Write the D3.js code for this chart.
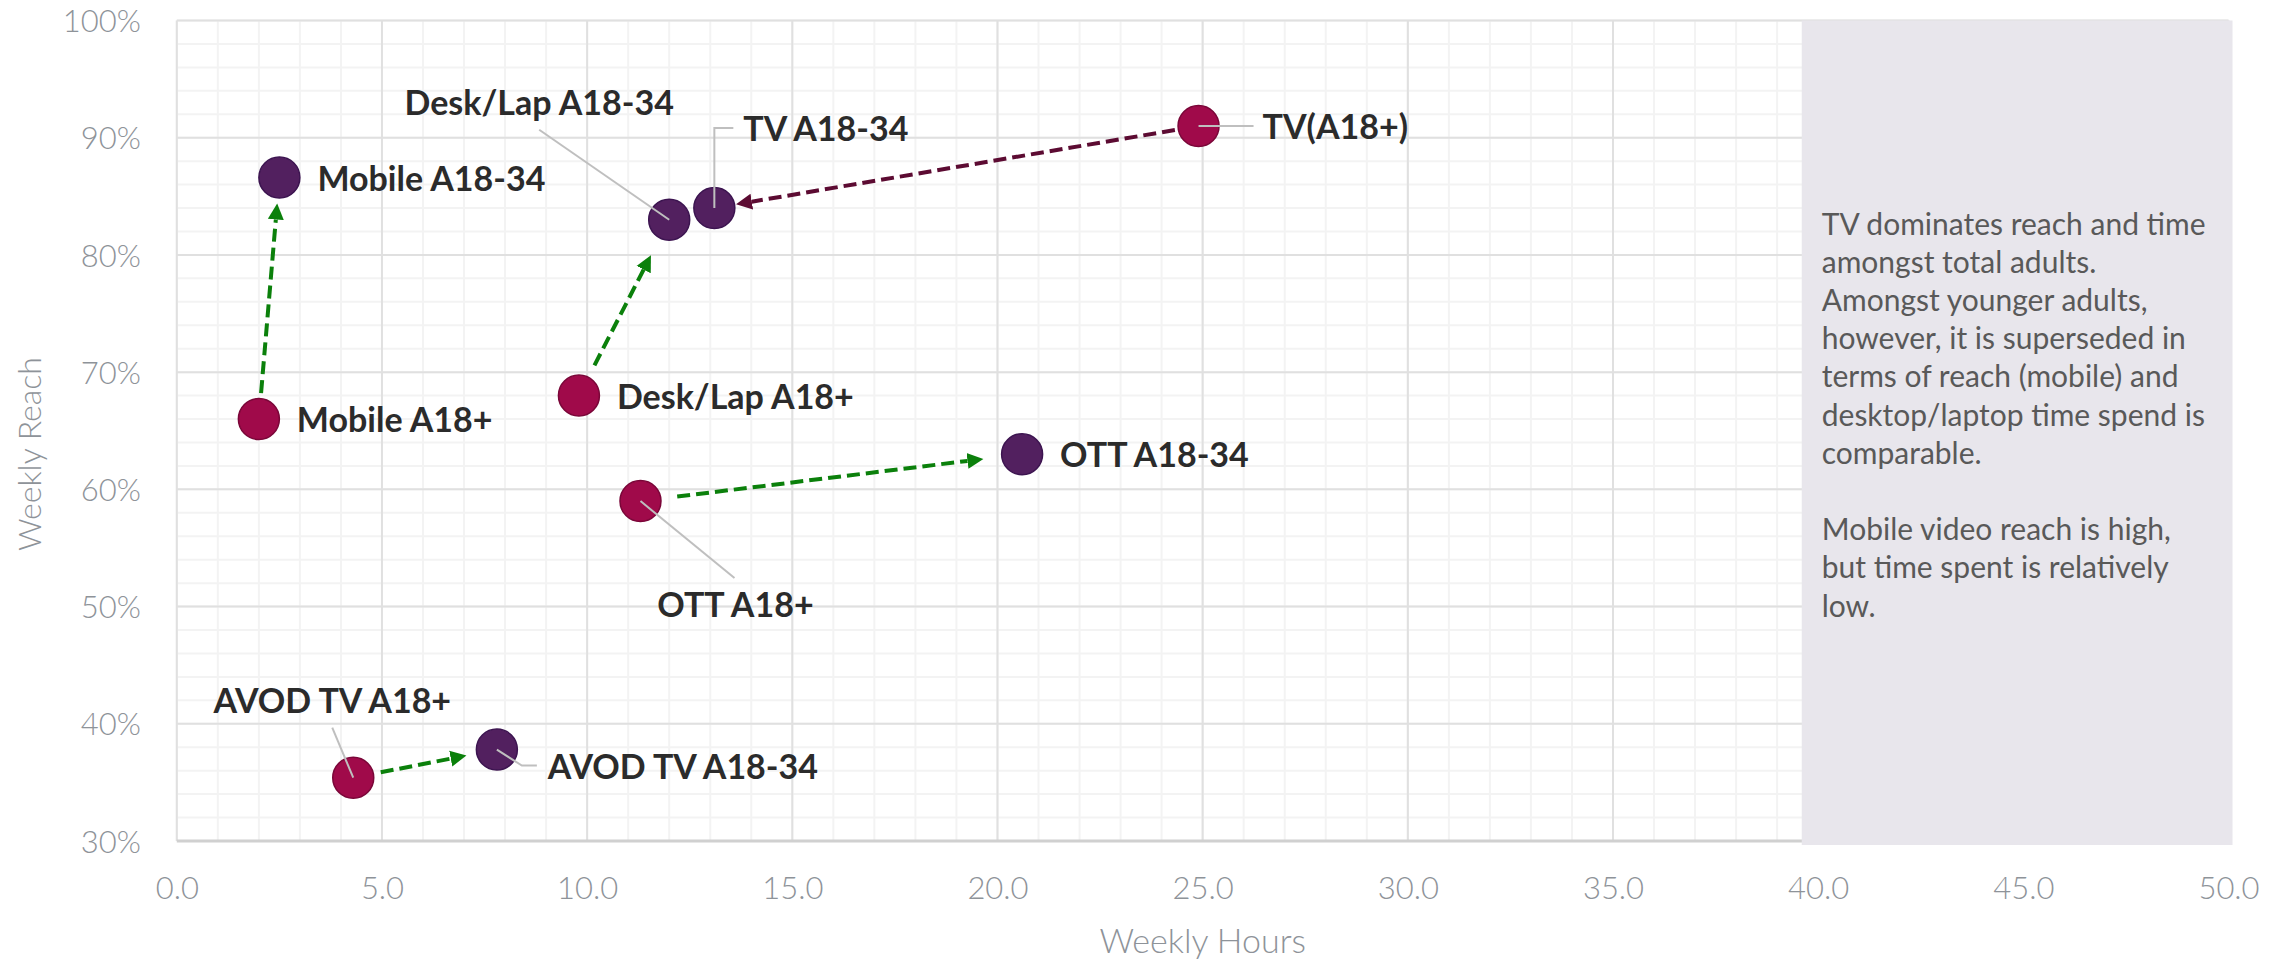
<!DOCTYPE html>
<html lang="en">
<head>
    <meta charset="UTF-8">
    <title>Weekly reach vs weekly hours</title>
    <script src="https://cdn.jsdelivr.net/npm/d3@7"></script>
    <style>
        body { margin: 0; background: #fff; }
    </style>
</head>
<body>
<script>
    // data
    var names = ["TV(A18+)", "TV A18-34", "Desk/Lap A18+", "Desk/Lap A18-34", "Mobile A18+",
        "Mobile A18-34", "OTT A18+", "OTT A18-34", "AVOD TV A18+", "AVOD TV A18-34"];
    var hours = [24.9, 13.1, 9.8, 12.0, 2.0, 2.5, 11.3, 20.6, 4.3, 7.8];
    var reach = [0.91, 0.84, 0.68, 0.83, 0.66, 0.866, 0.59, 0.63, 0.354, 0.378];
    var groups = ["A18+", "A18-34", "A18+", "A18-34", "A18+", "A18-34", "A18+", "A18-34", "A18+", "A18-34"];

    // arrows: from -> to (index into names)
    var arrowFrom = [0, 2, 4, 6, 8];
    var arrowTo = [1, 3, 5, 7, 9];

    var xTicks = [0, 5, 10, 15, 20, 25, 30, 35, 40, 45, 50];
    var yTicks = [0.3, 0.4, 0.5, 0.6, 0.7, 0.8, 0.9, 1.0];

    var note = ["TV dominates reach and time", "amongst total adults.", "Amongst younger adults,",
        "however, it is superseded in", "terms of reach (mobile) and", "desktop/laptop time spend is",
        "comparable.", "", "Mobile video reach is high,", "but time spent is relatively", "low."];

    // layout
    var W = 2290, H = 963;
    var margin = {top: 20.5, right: 61.5, bottom: 122, left: 176.8};
    var w = W - margin.left - margin.right;
    var h = H - margin.top - margin.bottom;

    var fill = {"A18+": "#a00a4a", "A18-34": "#52205f"};
    var stroke = {"A18+": "#7a0638", "A18-34": "#3c1450"};

    // label placement relative to the point (px)
    var labelPos = {
        "TV(A18+)":        {dx: 64, dy: 13, anchor: "start", leader: [[0, 0], [55, 0]]},
        "TV A18-34":       {dx: 29, dy: -67, anchor: "start", leader: [[0, 0], [0, -80], [19, -80]]},
        "Desk/Lap A18+":   {dx: 38, dy: 13, anchor: "start", leader: null},
        "Desk/Lap A18-34": {dx: -130, dy: -105, anchor: "middle", leader: [[0, 0], [-130, -90]]},
        "Mobile A18+":     {dx: 38, dy: 13, anchor: "start", leader: null},
        "Mobile A18-34":   {dx: 38, dy: 13, anchor: "start", leader: null},
        "OTT A18+":        {dx: 95, dy: 116, anchor: "middle", leader: [[0, 0], [94, 77]]},
        "OTT A18-34":      {dx: 38, dy: 13, anchor: "start", leader: null},
        "AVOD TV A18+":    {dx: -21, dy: -65, anchor: "middle", leader: [[0, 0], [-21, -50]]},
        "AVOD TV A18-34":  {dx: 51, dy: 29, anchor: "start", leader: [[0, 0], [25, 16], [40, 16]]}
    };
    // gaps between arrow ends and point centres (px)
    var arrowGap = [[24, 22], [34, 40], [26, 26], [37, 39], [28, 31]];
    var arrowColor = ["#5c0b32", "#0b800b", "#0b800b", "#0b800b", "#0b800b"];

    var xScale = d3.scaleLinear().domain([0, 50]).range([0, w]);
    var yScale = d3.scaleLinear().domain([0.3, 1.0]).range([h, 0]);

    var svg = d3.select("body").append("svg")
        .attr("width", W)
        .attr("height", H);

    var defs = svg.append("defs");
    arrowColor.forEach(function (c, i) {
        defs.append("marker")
            .attr("id", "head" + i)
            .attr("markerUnits", "userSpaceOnUse")
            .attr("markerWidth", 18)
            .attr("markerHeight", 18)
            .attr("viewBox", "0 -9 18 18")
            .attr("refX", 0)
            .attr("refY", 0)
            .attr("orient", "auto")
            .append("path")
            .attr("d", "M0,-8L16,0L0,8Z")
            .attr("fill", c);
    });

    var g = svg.append("g")
        .attr("transform", "translate(" + margin.left + "," + margin.top + ")");

    // minor grid
    var minorX = d3.range(0, 50.01, 1);
    var minorY = d3.range(0.3, 1.001, 0.02);
    g.append("g").selectAll("line").data(minorX).enter().append("line")
        .attr("x1", function (d) { return xScale(d); })
        .attr("x2", function (d) { return xScale(d); })
        .attr("y1", 0).attr("y2", h)
        .attr("stroke", "#f3f3f3").attr("stroke-width", 2);
    g.append("g").selectAll("line").data(minorY).enter().append("line")
        .attr("y1", function (d) { return yScale(d); })
        .attr("y2", function (d) { return yScale(d); })
        .attr("x1", 0).attr("x2", w)
        .attr("stroke", "#f3f3f3").attr("stroke-width", 2);

    // major grid
    g.append("g").selectAll("line").data(xTicks).enter().append("line")
        .attr("x1", function (d) { return xScale(d); })
        .attr("x2", function (d) { return xScale(d); })
        .attr("y1", 0).attr("y2", h)
        .attr("stroke", "#e0e0e0").attr("stroke-width", 2);
    g.append("g").selectAll("line").data(yTicks).enter().append("line")
        .attr("y1", function (d) { return yScale(d); })
        .attr("y2", function (d) { return yScale(d); })
        .attr("x1", 0).attr("x2", w)
        .attr("stroke", function (d) { return d === 0.3 ? "#d0d0d0" : "#e0e0e0"; })
        .attr("stroke-width", function (d) { return d === 0.3 ? 3 : 2; });

    // axes
    var xAxis = g.append("g")
        .attr("transform", "translate(0," + h + ")")
        .call(d3.axisBottom(xScale).tickValues(xTicks).tickFormat(d3.format(".1f")).tickSize(0).tickPadding(36));
    var yAxis = g.append("g")
        .call(d3.axisLeft(yScale).tickValues(yTicks).tickFormat(d3.format(".0%")).tickSize(0).tickPadding(36));
    [xAxis, yAxis].forEach(function (a) {
        a.select(".domain").remove();
        a.selectAll("text")
            .attr("font-family", "Lato, sans-serif")
            .attr("font-weight", 300)
            .attr("font-size", "31px")
            .attr("fill", "#8e9399");
    });
    yAxis.selectAll("text").attr("dy", "0.36em");

    // axis titles
    svg.append("text")
        .attr("x", margin.left + w / 2)
        .attr("y", 953)
        .attr("text-anchor", "middle")
        .attr("font-family", "Lato, sans-serif")
        .attr("font-weight", 300)
        .attr("font-size", "34px")
        .attr("fill", "#8e9399")
        .text("Weekly Hours");
    svg.append("text")
        .attr("transform", "translate(41,454) rotate(-90)")
        .attr("text-anchor", "middle")
        .attr("font-family", "Lato, sans-serif")
        .attr("font-weight", 300)
        .attr("font-size", "32px")
        .attr("fill", "#8e9399")
        .text("Weekly Reach");

    // grey note panel
    g.append("rect")
        .attr("x", xScale(39.6))
        .attr("y", 0)
        .attr("width", xScale(50) - xScale(39.6) + 4)
        .attr("height", h + 4)
        .attr("fill", "#e8e6ec");
    g.append("text")
        .attr("font-family", "Lato, sans-serif")
        .attr("font-size", "30px")
        .attr("fill", "#595959")
        .selectAll("tspan").data(note).enter().append("tspan")
        .attr("x", xScale(39.6) + 20)
        .attr("y", function (d, i) { return 214 + i * 38.2; })
        .text(function (d) { return d; });

    // arrows
    arrowFrom.forEach(function (a, i) {
        var b = arrowTo[i];
        var x1 = xScale(hours[a]), y1 = yScale(reach[a]);
        var x2 = xScale(hours[b]), y2 = yScale(reach[b]);
        var len = Math.sqrt((x2 - x1) * (x2 - x1) + (y2 - y1) * (y2 - y1));
        var ux = (x2 - x1) / len, uy = (y2 - y1) / len;
        var s = arrowGap[i][0], e = arrowGap[i][1] + 16;
        g.append("line")
            .attr("x1", x1 + ux * s).attr("y1", y1 + uy * s)
            .attr("x2", x2 - ux * e).attr("y2", y2 - uy * e)
            .attr("stroke", arrowColor[i])
            .attr("stroke-width", 4)
            .attr("stroke-dasharray", "13,6")
            .attr("marker-end", "url(#head" + i + ")");
    });

    // points
    var idx = d3.range(names.length);
    g.append("g").selectAll("circle").data(idx).enter().append("circle")
        .attr("cx", function (i) { return xScale(hours[i]); })
        .attr("cy", function (i) { return yScale(reach[i]); })
        .attr("r", 20.5)
        .attr("fill", function (i) { return fill[groups[i]]; })
        .attr("stroke", function (i) { return stroke[groups[i]]; })
        .attr("stroke-width", 1.5);

    // leader lines
    var line = d3.line();
    idx.forEach(function (i) {
        var p = labelPos[names[i]];
        if (!p.leader) return;
        var cx = xScale(hours[i]), cy = yScale(reach[i]);
        g.append("path")
            .attr("d", line(p.leader.map(function (q) { return [cx + q[0], cy + q[1]]; })))
            .attr("fill", "none")
            .attr("stroke", "#bfbfbf")
            .attr("stroke-width", 2);
    });

    // data labels
    g.append("g").selectAll("text").data(idx).enter().append("text")
        .attr("x", function (i) { return xScale(hours[i]) + labelPos[names[i]].dx; })
        .attr("y", function (i) { return yScale(reach[i]) + labelPos[names[i]].dy; })
        .attr("text-anchor", function (i) { return labelPos[names[i]].anchor; })
        .attr("font-family", "Lato, sans-serif")
        .attr("font-weight", 700)
        .attr("font-size", "34px")
        .attr("fill", "#2b2b2b")
        .text(function (i) { return names[i]; });
</script>
</body>
</html>
